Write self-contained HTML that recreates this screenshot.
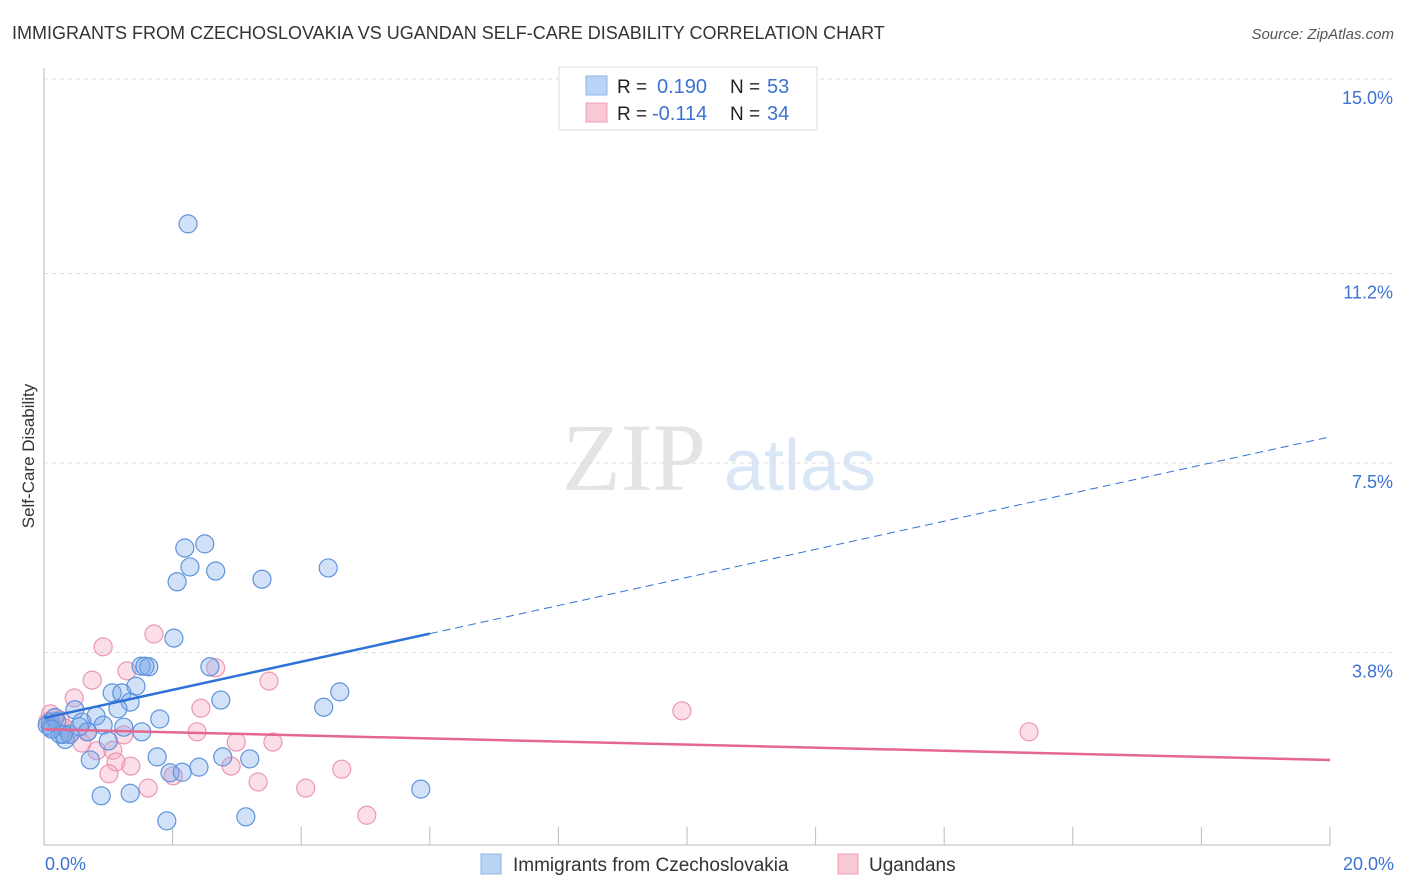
<!DOCTYPE html>
<html><head><meta charset="utf-8">
<style>
body{margin:0;background:#fff;font-family:"Liberation Sans",sans-serif;}
svg{display:block}
</style></head>
<body>
<svg id="chart" width="1406" height="892" xmlns="http://www.w3.org/2000/svg">
<text x="12" y="39" font-size="18" fill="#333">IMMIGRANTS FROM CZECHOSLOVAKIA VS UGANDAN SELF-CARE DISABILITY CORRELATION CHART</text>
<text x="1394" y="39" font-size="15" fill="#555" font-style="italic" text-anchor="end">Source: ZipAtlas.com</text>
<text transform="translate(34,456) rotate(-90)" font-size="17" fill="#333" text-anchor="middle">Self-Care Disability</text>
<g id="watermark">
<text x="634" y="490" font-size="96" fill="#e4e4e4" font-family="Liberation Serif,serif" text-anchor="middle">ZIP</text>
<text x="800" y="490" font-size="72" fill="#d8e6f6" text-anchor="middle">atlas</text>
</g>
<g id="grid"></g><g id="axes"></g><g id="points"></g><g id="trends"></g>
<g>
<rect x="559" y="67" width="258" height="63" fill="#fff" stroke="#ddd"/>
<rect x="586" y="76" width="21" height="19" fill="#b9d3f5" stroke="#8fb5e8"/>
<rect x="586" y="103" width="21" height="19" fill="#f9c9d6" stroke="#f0a0b8"/>
<text x="617" y="93" font-size="19" fill="#222">R = </text><text x="657" y="93" font-size="20" fill="#3b73d3">0.190</text>
<text x="730" y="93" font-size="19" fill="#222">N = </text><text x="767" y="93" font-size="20" fill="#3b73d3">53</text>
<text x="617" y="120" font-size="19" fill="#222">R = </text><text x="652" y="120" font-size="20" fill="#3b73d3">-0.114</text>
<text x="730" y="120" font-size="19" fill="#222">N = </text><text x="767" y="120" font-size="20" fill="#3b73d3">34</text>
</g>
<g>
<rect x="481" y="854" width="20" height="20" fill="#b9d3f5" stroke="#8fb5e8"/>
<text x="513" y="871" font-size="19" fill="#333">Immigrants from Czechoslovakia</text>
<rect x="838" y="854" width="20" height="20" fill="#f9c9d6" stroke="#f0a0b8"/>
<text x="869" y="871" font-size="19" fill="#333">Ugandans</text>
</g>
<text x="45" y="870" font-size="18" fill="#3b73d3">0.0%</text>
<text x="1394" y="870" font-size="18" fill="#3b73d3" text-anchor="end">20.0%</text>
</svg>
<script>
const yTicks=[15.0,11.2,7.5,3.8];
const yTickLabels=["15.0%","11.2%","7.5%","3.8%"];
const blueX=[2.24,2.19,2.50,2.27,2.07,2.67,3.39,4.42,2.02,1.51,1.63,1.57,2.58,1.43,1.06,1.21,2.75,4.60,4.35,1.34,1.15,0.48,0.81,1.80,0.59,0.92,1.24,1.52,0.1,0.17,0.1,0.25,0.33,0.40,1.00,1.76,2.78,3.20,0.72,1.96,2.15,2.41,0.89,1.34,5.86,1.91,3.14,0.05,0.2,0.68,0.3,0.12,0.55];
const blueY=[12.17,5.84,5.92,5.47,5.18,5.39,5.23,5.45,4.08,3.53,3.52,3.53,3.52,3.14,3.01,3.01,2.87,3.03,2.73,2.83,2.70,2.68,2.56,2.50,2.44,2.38,2.34,2.25,2.44,2.53,2.34,2.2,2.1,2.2,2.07,1.76,1.76,1.72,1.70,1.45,1.46,1.56,1.00,1.05,1.13,0.51,0.59,2.38,2.45,2.25,2.2,2.3,2.35];
const pinkX=[1.71,0.92,1.29,2.67,0.75,3.50,0.47,2.44,9.92,0.1,0.16,0.06,0.67,2.38,2.99,3.56,0.59,1.24,1.07,0.82,15.32,1.12,1.35,2.91,4.63,1.01,2.01,3.33,1.62,4.07,5.02,0.25,0.33,0.4];
const pinkY=[4.16,3.91,3.44,3.50,3.26,3.24,2.91,2.71,2.66,2.6,2.52,2.45,2.25,2.25,2.05,2.05,2.03,2.19,1.89,1.88,2.25,1.66,1.58,1.58,1.52,1.43,1.39,1.27,1.15,1.15,0.62,2.48,2.32,2.2];
const blueTrend=[2.52,8.01], pinkTrend=[2.30,1.70], blueSolidEnd=6.0;
const NS="http://www.w3.org/2000/svg";
const X0=44,X1=1330,Y0=847,PPU=51.2;
const xs=v=>X0+v/20*(X1-X0), ys=v=>Y0-v*PPU;
function mk(tag,attrs,parent){const e=document.createElementNS(NS,tag);for(const k in attrs)e.setAttribute(k,attrs[k]);parent.appendChild(e);return e;}
const grid=document.getElementById('grid'),axes=document.getElementById('axes'),pts=document.getElementById('points'),tr=document.getElementById('trends');
yTicks.forEach((t,i)=>{const y=ys(t*1.0);
 const l=mk('line',{x1:X0,x2:1394,y1:y,y2:y,stroke:'#ddd','stroke-dasharray':'4,4'},grid);
 
 
 const tx=mk('text',{x:1393,y:y+25,'font-size':18,fill:'#3b73d3','text-anchor':'end'},grid);tx.textContent=yTickLabels[i];
 
 
});
const ya=mk('line',{x1:X0,x2:X0,y1:68,y2:845,stroke:'#bbb'},axes);


const xa=mk('line',{x1:X0,x2:X1,y1:845,y2:845,stroke:'#bbb'},axes);


for(let i=0;i<=10;i++){const x=xs(i*2);const t=mk('line',{x1:x,x2:x,y1:827,y2:845,stroke:'#bbb'},axes);
 
 }
function dots(X,Y,fill,stroke,name){X.forEach((v,i)=>{const c=mk('circle',{cx:xs(v),cy:ys(Y[i]),r:9,fill:fill,stroke:stroke,'stroke-width':1.2},pts);
 
 });}
dots(pinkX,pinkY,'rgba(244,160,188,0.35)','#eb98b2','point-ugandan');
dots(blueX,blueY,'rgba(120,170,235,0.35)','#5f93dc','point-czech');
const by=v=>blueTrend[0]+(blueTrend[1]-blueTrend[0])*v/20;
const b1=mk('line',{x1:xs(0),y1:ys(by(0)),x2:xs(blueSolidEnd),y2:ys(by(blueSolidEnd)),stroke:'#2f72d6','stroke-width':2.5},tr);


const b2=mk('line',{x1:xs(blueSolidEnd),y1:ys(by(blueSolidEnd)),x2:xs(20),y2:ys(by(20)),stroke:'#2f72d6','stroke-width':1,'stroke-dasharray':'8,5'},tr);


const p1=mk('line',{x1:xs(0),y1:ys(pinkTrend[0]),x2:xs(20),y2:ys(pinkTrend[1]),stroke:'#e5668f','stroke-width':2.5},tr);


</script>
</body></html>
